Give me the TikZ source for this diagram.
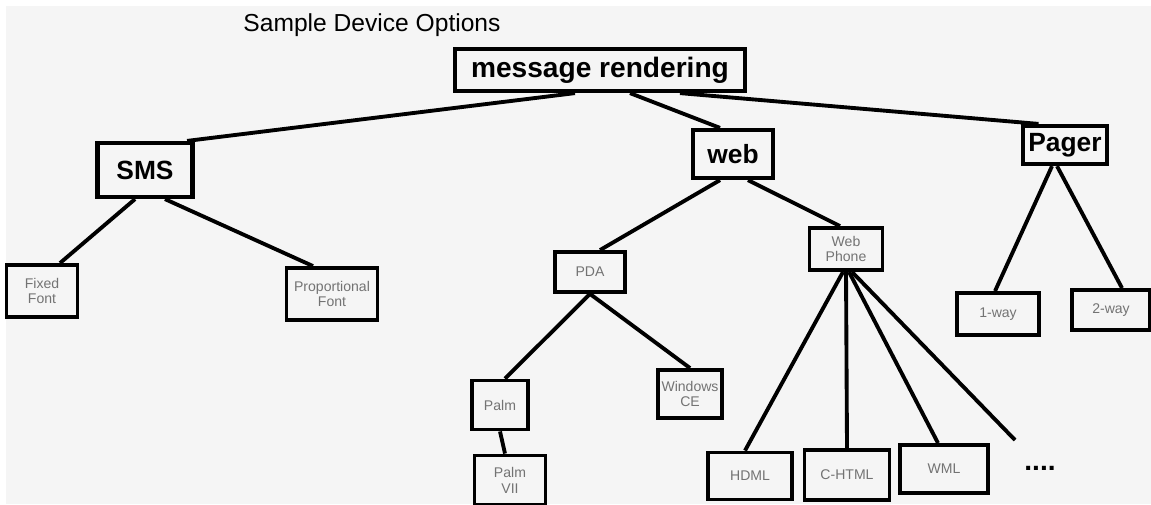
\documentclass[tikz,border=0pt]{standalone}
\usepackage{fontspec}
\setmainfont{Liberation Sans}
\begin{document}
\begin{tikzpicture}[x=0.02cm,y=-0.02cm]
\tikzset{
  devbox/.style={draw,line width=2.4pt,font=\bfseries\fontsize{15}{17}\selectfont,inner sep=3pt},
  leafbox/.style={draw,line width=2.2pt,align=center,font=\fontsize{8}{9}\selectfont,text=black!55,inner sep=2pt},
  link/.style={line width=2.2pt},
}
% the paper
\fill[white] (0,0) rectangle (1151,504);
\fill[black!4] (6,6) rectangle (1151,504);
\useasboundingbox (0,0) rectangle (1151,504);

% title
\node (title) at (372,25) {\fontsize{14}{16}\selectfont Sample Device Options};

% top level
\node[devbox,minimum width=5.8cm,minimum height=0.84cm,font=\bfseries\fontsize{16}{18}\selectfont] (msg) at (600,70) {message rendering};
\node[devbox,minimum width=1.9cm,minimum height=1.08cm] (sms) at (145,170) {SMS};
\node[devbox,minimum width=1.6cm,minimum height=0.96cm] (web) at (733,154) {web};
\node[devbox,minimum width=1.48cm,minimum height=0.76cm] (pager) at (1065,145) {Pager};

% second level
\node[leafbox,minimum width=1.42cm,minimum height=1.04cm] (fixed) at (42,291) {Fixed\\Font};
\node[leafbox,minimum width=1.82cm,minimum height=1.04cm] (prop) at (332,294) {Proportional\\Font};
\node[leafbox,minimum width=1.4cm,minimum height=0.8cm] (pda) at (590,272) {PDA};
\node[leafbox,minimum width=1.46cm,minimum height=0.84cm] (phone) at (846,249) {Web\\Phone};
\node[leafbox,minimum width=1.64cm,minimum height=0.84cm] (oneway) at (998,314) {1-way};
\node[leafbox,minimum width=1.56cm,minimum height=0.8cm] (twoway) at (1111,310) {2-way};

% third level
\node[leafbox,minimum width=1.12cm,minimum height=0.98cm] (palm) at (500,405) {Palm};
\node[leafbox,minimum width=1.2cm,minimum height=0.96cm] (wince) at (690,394) {Windows\\CE};
\node[leafbox,minimum width=1.42cm,minimum height=0.98cm] (palmvii) at (510,480) {Palm\\VII};
\node[leafbox,minimum width=1.68cm,minimum height=0.94cm] (hdml) at (750,476) {HDML};
\node[leafbox,minimum width=1.7cm,minimum height=1.0cm] (chtml) at (847,475) {C-HTML};
\node[leafbox,minimum width=1.76cm,minimum height=0.96cm] (wml) at (944,469) {WML};
\node[font=\bfseries\fontsize{16}{18}\selectfont] (more) at (1040,468) {....};
\coordinate (moreend) at (1015,440);

% links from the top
\draw[link] ([xshift=-0.5cm]msg.south) -- ([xshift=-0.15cm]sms.north east);
\draw[link] ([xshift=0.6cm]msg.south) -- ([xshift=-0.26cm]web.north);
\draw[link] ([xshift=1.6cm]msg.south) -- ([xshift=0.35cm]pager.north west);

% SMS
\draw[link] ([xshift=-0.2cm]sms.south) -- ([xshift=0.36cm]fixed.north);
\draw[link] ([xshift=0.4cm]sms.south) -- ([xshift=-0.38cm]prop.north);

% web
\draw[link] ([xshift=-0.26cm]web.south) -- ([xshift=0.2cm]pda.north);
\draw[link] ([xshift=0.3cm]web.south) -- ([xshift=-0.12cm]phone.north);
\draw[link] (pda.south) -- ([xshift=0.1cm]palm.north);
\draw[link] (pda.south) -- (wince.north);
\draw[link] (palm.south) -- ([xshift=-0.1cm]palmvii.north);
\draw[link] ([xshift=-0.06cm]phone.south) -- ([xshift=-0.1cm]hdml.north);
\draw[link] (phone.south) -- (chtml.north);
\draw[link] ([xshift=0.06cm]phone.south) -- ([xshift=-0.12cm]wml.north);
\draw[link] ([xshift=0.12cm]phone.south) -- (moreend);

% Pager
\draw[link] ([xshift=-0.26cm]pager.south) -- ([xshift=-0.06cm]oneway.north);
\draw[link] ([xshift=-0.16cm]pager.south) -- ([xshift=0.22cm]twoway.north);
\end{tikzpicture}
\end{document}
